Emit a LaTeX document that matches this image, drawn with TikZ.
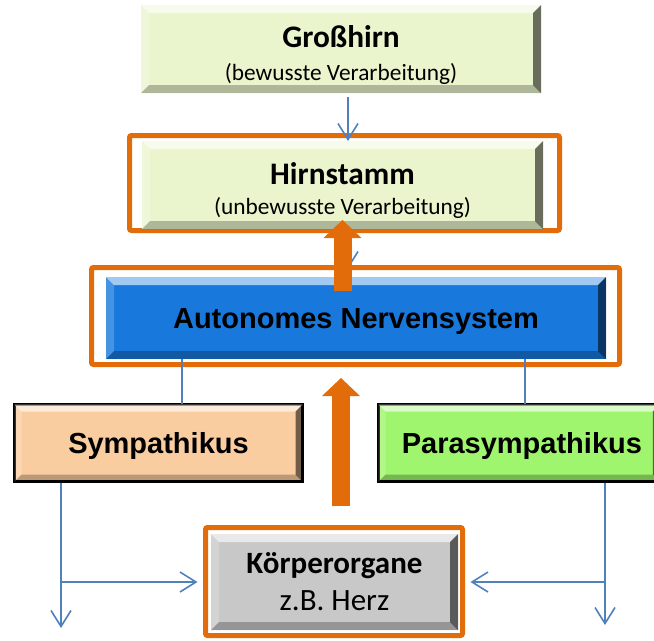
\documentclass[tikz,border=0pt]{standalone}
\usepackage{fontspec}
\setmainfont{Carlito}
\newfontfamily\arialfont{Liberation Sans}
\usepackage{tikz}
\usetikzlibrary{arrows.meta,calc}

\definecolor{frameorange}{RGB}{227,108,10}
\definecolor{linkblue}{RGB}{79,129,189}
\definecolor{brainGreen}{RGB}{234,245,206}
\definecolor{ansBlue}{RGB}{24,120,220}
\definecolor{symPeach}{RGB}{250,205,160}
\definecolor{paraGreen}{RGB}{160,245,110}
\definecolor{organGrey}{RGB}{200,200,200}

% bevelled edge of a box: #1 node, #2 depth
\newcommand{\bevel}[2]{%
\fill[white,opacity=.6] (#1.north west) -- (#1.north east) -- ($(#1.north east)+(-#2,#2)$) -- ($(#1.north west)+(#2,#2)$) -- cycle;
\fill[white,opacity=.2] (#1.north west) -- ($(#1.north west)+(#2,#2)$) -- ($(#1.south west)+(#2,-#2)$) -- (#1.south west) -- cycle;
\fill[black,opacity=.55] (#1.north east) -- (#1.south east) -- ($(#1.south east)+(-#2,-#2)$) -- ($(#1.north east)+(-#2,#2)$) -- cycle;
\fill[black,opacity=.25] (#1.south west) -- (#1.south east) -- ($(#1.south east)+(-#2,-#2)$) -- ($(#1.south west)+(#2,-#2)$) -- cycle;
}

\begin{document}
\begin{tikzpicture}[x=0.75pt,y=0.75pt,yscale=-1,xscale=1,
  box/.style={rectangle,inner sep=0pt,outer sep=0pt,align=center},
  onebox/.style={box,text height=18pt,text depth=2.4pt,font=\arialfont\bfseries\fontsize{21.75}{26}\selectfont},
  frame/.style={rectangle,draw=frameorange,line width=3.75pt,inner sep=0pt,outer sep=0pt,rounded corners=1.5pt},
  link/.style={draw=linkblue,line width=1.2pt},
  linkarrow/.style={link,-{Straight Barb[length=12pt,width=15pt]}},
  bigarrow/.style={draw=frameorange,line width=13.5pt,-{Triangle[length=13.5pt,width=28.5pt,line width=0pt]}}]
\useasboundingbox (0,0) rectangle (654,640);

%Frames
\node[frame,minimum width=322.5pt,minimum height=71.25pt] (hframe) at (344.5,183) {};
\node[frame,minimum width=396pt,minimum height=72.75pt] (aframe) at (355.5,316) {};
\node[frame,minimum width=192.75pt,minimum height=81pt] (kframe) at (334,581.5) {};

%Boxes
\node[box,fill=brainGreen,minimum width=300pt,minimum height=66pt] (gross) at (341,49)
  {\fontsize{23.5}{24}\selectfont\bfseries\rule{0pt}{25pt}Großhirn\\[11pt]\fontsize{17.5}{21}\selectfont (bewusste Verarbeitung)};
\node[box,fill=brainGreen,minimum width=300.75pt,minimum height=66pt] (hirn) at (342.5,185)
  {\fontsize{23.5}{24}\selectfont\bfseries\rule{0pt}{25pt}Hirnstamm\\[9pt]\fontsize{17.5}{21}\selectfont (unbewusste Verarbeitung)};
\node[onebox,fill=ansBlue,minimum width=375pt,minimum height=61.5pt] (ans) at (356,318) {Autonomes Nervensystem};
\node[onebox,fill=symPeach,draw=black,line width=2.25pt,minimum width=216pt,minimum height=57.75pt] (sym) at (158.5,443) {Sympathikus};
\node[onebox,fill=paraGreen,draw=black,line width=2.25pt,minimum width=211.1pt,minimum height=57.75pt] (para) at (519.25,443) {\hspace*{4pt}Parasympathikus};
\node[box,fill=organGrey,minimum width=185.25pt,minimum height=72pt] (koerper) at (334.5,582)
  {\fontsize{23.25}{24}\selectfont\bfseries Körperorgane\\[8pt]\fontsize{23.25}{24}\selectfont z.B. Herz};

\bevel{gross}{8}
\bevel{hirn}{8}
\bevel{ans}{8}
\bevel{sym}{7}
\bevel{para}{7}
\bevel{koerper}{8}

%Connectors
\coordinate (symfork) at (61,582);
\coordinate (symend) at (61,628);
\coordinate (parafork) at (605,582);
\coordinate (paraend) at (605,625);

\draw[linkarrow] ($(gross.south)+(7,4)$) -- ($(hirn.north)+(5.5,0)$);
\draw[linkarrow] ($(hirn.south)+(5.5,0)$) -- ($(ans.north)+(-8,-8)$);
\draw[link] ($(ans.south)+(-174,0)$) -- ($(sym.north)+(23.5,-1)$);
\draw[link] ($(ans.south)+(169,0)$) -- ($(para.north)+(5.75,-1)$);
\draw[linkarrow] ($(sym.south)+(-97.5,1.5)$) -- (symend);
\draw[linkarrow] (symfork) -- ($(symfork -| kframe.west)+(-8,0)$);
\draw[linkarrow] ($(para.south)+(85.75,1.5)$) -- (paraend);
\draw[linkarrow] (parafork) -- ($(parafork -| kframe.east)+(8,0)$);

%Thick arrows
\draw[bigarrow] ($(ans.north)+(-13.5,14)$) -- ($(hirn.south)+(0,-9)$);
\draw[bigarrow] ($(kframe.north)+(7,-21.5)$) -- ($(aframe.south)+(-14.5,13.5)$);
\end{tikzpicture}
\end{document}
